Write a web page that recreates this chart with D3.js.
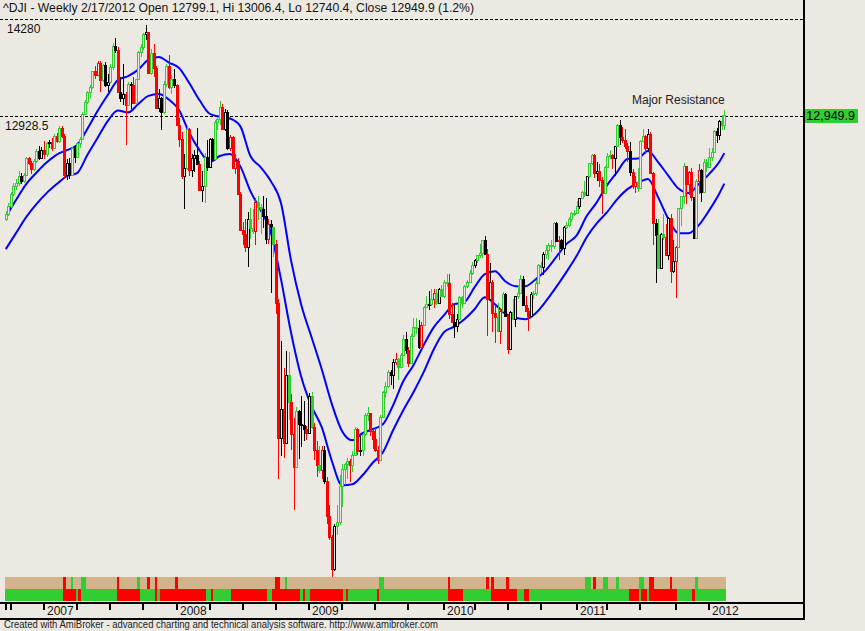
<!DOCTYPE html>
<html>
<head>
<meta charset="utf-8">
<script src="https://cdnjs.cloudflare.com/ajax/libs/d3/7.8.5/d3.min.js"></script>
<style>
  body { margin: 0; background: #ece9e2; }
  svg { display: block; font-family: "Liberation Sans", Arial, sans-serif; }
</style>
</head>
<body>
<script>
// ^DJI weekly bars, 9/22/2006 .. 2/17/2012 (283 bars)
const firstFriday = new Date(2006, 8, 22);
const shortWeeks = ["2010-01-01"];   // bar dated on the Thursday

const openPx = [
  11495,11560,11679,11850,11961,12002,12090,12031,12108,12342,12280,12194,12307,12445,12343,
  12463,12398,12556,12565,12487,12653,12580,12768,12647,12114,12276,12110,12481,12354,12560,12612,12961,13120,13264,13327,13556,13507,13668,13424,13639,13360,13408,13611,13907,13851,13265,13182,13239,13079,13379,13358,13113,13442,13820,13896,14066,14093,13522,13807,13595,13042,13177,12980,13372,13625,13339,13451,
  13366,12800,12606,12099,12207,12743,12182,12348,12381,12266,11894,11951,12361,12216,12609,12325,12849,12891,13058,12745,12986,12480,12638,12209,12307,11843,11346,11288,11100,11496,11370,11326,11734,11659,11628,11543,11220,11421,11388,11143,10325,8451,8852,8378,9325,8943,8497,8046,8829,8635,8629,8579,
  8515,9034,8599,8281,8077,8001,8280,7850,7366,7063,6627,7224,7279,7776,8018,8083,8131,8076,8212,8575,8268,8277,8500,8764,8799,8539,8438,8280,8146,8743,9093,9172,9370,9321,9505,9544,9441,9605,9820,9665,9488,9865,9996,9972,9713,10023,10270,10318,10309,10388,10471,10329,10520,
  10428,10618,10610,10173,10067,10012,10099,10403,10325,10567,10625,10742,10851,10927,10997,11019,11204,11009,10380,10620,10193,10137,9931,10212,10450,10144,9686,10198,10098,10424,10466,10654,10303,10213,10150,10448,10462,10607,10860,10829,11006,11063,11133,11118,11445,11193,11204,11092,11382,11410,11492,11573,
  11578,11675,11787,11872,11824,12092,12273,12391,12130,12170,12044,11859,12221,12377,12380,12342,12506,12811,12638,12596,12512,12442,12151,11952,12004,11934,12582,12657,12480,12681,12143,11445,11269,10818,11285,11240,10992,11509,10772,10913,11103,11644,11809,12231,11983,12153,11796,11231,12019,12184,11867,12294,
  12218,12360,12422,12720,12660,12862,12799.1
];
const highPx = [
  11610,11720,11870,11990,12050,12160,12130,12140,12360,12360,12300,12330,12470,12510,12500,
  12580,12570,12600,12620,12680,12690,12790,12790,12680,12330,12350,12500,12530,12570,12640,12980,13150,13280,13360,13560,13630,13690,13690,13660,13680,13520,13650,13940,14020,13890,13470,13660,13260,13400,13400,13470,13450,13830,13930,14080,14198,14100,13860,13930,13620,13310,13200,13420,13660,13780,13500,13580,
  13370,12900,12700,12400,12770,12760,12400,12460,12760,12300,12160,12410,12600,12630,12630,12870,12900,13140,13100,13030,13010,12660,12650,12400,12340,11870,11460,11490,11600,11650,11640,11790,11810,11700,11810,11790,11500,11480,11390,11200,10380,9800,9420,9660,9650,9060,8730,8880,8830,9030,8960,8620,
  9070,9090,8660,8400,8340,8340,8340,7900,7520,7090,7250,7510,7930,8080,8100,8170,8160,8260,8600,8580,8480,8520,8800,8880,8800,8570,8600,8330,8770,9100,9220,9390,9400,9550,9630,9560,9630,9880,9920,9720,9890,10120,10120,10090,10060,10290,10420,10500,10520,10520,10520,10530,10580,
  10640,10730,10730,10330,10300,10170,10430,10420,10580,10650,10780,10900,10940,11000,11150,11210,11260,11080,10880,10640,10290,10330,10250,10480,10470,10170,10210,10380,10430,10580,10720,10700,10420,10260,10480,10500,10640,10870,10900,11030,11140,11160,11200,11450,11450,11260,11220,11400,11460,11520,11590,11620,
  11740,11790,11880,12020,12100,12280,12400,12400,12290,12260,12080,12230,12420,12450,12400,12510,12820,12880,12780,12750,12550,12570,12190,12100,12200,12600,12750,12660,12750,12700,12150,11500,11500,11300,11560,11420,11520,11560,11200,11120,11650,11820,12280,12240,12160,12200,11800,12050,12260,12190,12330,12330,
  12480,12490,12730,12760,12880,12940,13006.4
];
const lowPx = [
  11470,11540,11650,11820,11900,11950,11980,11990,12100,12250,12120,12170,12280,12320,12330,
  12330,12360,12480,12440,12480,12560,12560,12620,12050,12040,12050,12100,12280,12350,12480,12600,12940,13100,13180,13300,13440,13480,13260,13400,13340,13260,13400,13570,13810,13260,13130,13080,12520,13070,13030,13100,13100,13430,13750,13850,13990,13520,13500,13470,13040,12990,12740,12960,13340,13300,13230,13320,
  12790,12500,12050,11630,12180,12100,12080,12150,12260,11890,11730,11720,12170,12200,12300,12310,12730,12800,12740,12720,12460,12440,12200,12120,11830,11340,11130,11030,10830,11220,11290,11140,11480,11290,11370,11150,11150,10460,10970,10180,7880,8200,8170,8370,8700,8280,7450,8030,8150,8320,8400,8420,
  8500,8570,8140,7910,7960,7880,7800,7250,7030,6470,6600,7100,7230,7490,7790,7880,7840,7980,8200,8210,8200,8200,8480,8690,8480,8300,8250,8090,8140,8720,9010,9140,9180,9130,9460,9250,9420,9590,9620,9430,9480,9850,9900,9680,9680,10020,10270,10230,10290,10260,10300,10320,10420,
  10400,10550,10110,10050,9840,9920,10090,10250,10310,10530,10600,10720,10810,10880,10950,10950,10990,9870,10360,9920,9770,9920,9760,10200,10130,9610,9680,10090,9990,10380,10450,10290,10200,9940,10140,10380,10430,10590,10740,10720,10940,10930,11040,11080,11170,10930,11050,10990,11350,11390,11450,11540,
  11570,11630,11770,11800,11820,12060,12250,12060,12030,11940,11560,11850,12210,12330,12190,12090,12500,12530,12560,12470,12290,12100,11920,11860,11870,11930,12570,12400,12440,12120,11140,10600,10800,10800,11200,10990,10930,10600,10750,10400,11090,11400,11700,11700,11830,11740,11230,11230,11850,11730,11860,12150,
  12210,12300,12420,12560,12600,12740,12740.4
];
const closePx = [
  11560,11679,11850,11961,12002,12090,12031,12108,12342,12280,12194,12307,12445,12343,12463,
  12398,12556,12565,12487,12653,12580,12768,12647,12114,12276,12110,12481,12354,12560,12612,12961,13120,13264,13327,13556,13507,13668,13424,13639,13360,13408,13611,13907,13851,13265,13182,13239,13079,13379,13358,13113,13442,13820,13896,14066,14093,13522,13807,13595,13042,13177,12980,13372,13625,13339,13451,13366,
  12800,12606,12099,12207,12743,12182,12348,12381,12266,11894,11951,12361,12216,12609,12325,12849,12891,13058,12745,12986,12480,12638,12209,12307,11843,11346,11288,11100,11496,11370,11326,11734,11659,11628,11543,11220,11421,11388,11143,10325,8451,8852,8378,9325,8943,8497,8046,8829,8635,8629,8579,8515,
  9034,8599,8281,8077,8001,8280,7850,7366,7063,6627,7224,7279,7776,8018,8083,8131,8076,8212,8575,8268,8277,8500,8764,8799,8539,8438,8280,8146,8743,9093,9172,9370,9321,9505,9544,9441,9605,9820,9665,9488,9865,9996,9972,9713,10023,10270,10318,10309,10388,10471,10329,10520,10428,
  10618,10610,10173,10067,10012,10099,10403,10325,10567,10625,10742,10851,10927,10997,11019,11204,11009,10380,10620,10193,10137,9931,10212,10450,10144,9686,10198,10098,10424,10466,10654,10303,10213,10150,10448,10462,10607,10860,10829,11006,11063,11133,11118,11445,11193,11204,11092,11382,11410,11492,11573,11578,
  11675,11787,11872,11824,12092,12273,12391,12130,12170,12044,11859,12221,12377,12380,12342,12506,12811,12638,12596,12512,12442,12151,11952,12004,11934,12582,12657,12480,12681,12143,11445,11269,10818,11285,11240,10992,11509,10772,10913,11103,11644,11809,12231,11983,12153,11796,11231,12019,12184,11867,12294,12218,
  12360,12422,12720,12660,12862,12801,12949.9
];

// candle colour per bar: g green, r red, k black (one string per year)
const candleColorCodes = [
  "ggggggkggrrggkk",
  "rgkrgrgrrkkgkgggggggrrrgkkggkrkkrgkrggggkrgrrkkggrgk",
  "rrrkgrkkkrkgkkkgggrkkrrrrrrrkggrggkkrkgrrkrkgrrgkkkr",
  "kgrrgrkrrrkgggggrggrkgggrrrrggggkkrgggkrgggkrggkgrgkg",
  "ggrrkkggggggkgggkrkrrgrgkrkgkggkrrkggggkggggkrkkgggg",
  "gkggkggrkrrgggrkgkrrrkrrgggrkrrkgkgrkrkrgggrrrkgrkgg",
  "gggkkgg"
].join("");

// upper / lower bands, sampled every 4th bar (last sample on bar 282)
const bandBars = d3.range(0, 281, 4).concat([282]);
const upperBand = [
  11522,11759,11982,12140,12281,12392,12455,12525,12748,12998,
  13221,13430,13486,13575,13714,13751,13674,13597,13388,13152,
  12961,12919,12894,12789,12372,12218,12023,11717,10909,10296,
  9850,9404,8917,8541,8415,8513,8569,8638,8903,9237,
  9460,9739,9990,10157,10310,10338,10547,10728,10770,10630,
  10561,10561,10658,10784,10965,11146,11264,11536,11731,11968,
  12153,12330,12337,12441,12288,12100,11919,11856,11982,12121,
  12288,12413
];
const lowerBand = [
  11076,11299,11522,11703,11856,11982,12093,12135,12386,12622,
  12859,13005,12978,13096,13210,13235,13159,13012,12696,12455,
  12288,12372,12399,12232,11884,11619,11313,10658,9906,9293,
  8889,8597,8123,7789,7803,7928,8102,8248,8555,8833,
  9084,9363,9683,9920,9997,10101,10240,10407,10310,10178,
  10121,10101,10185,10352,10547,10756,10979,11243,11438,11592,
  11773,11912,11995,12051,11800,11500,11299,11299,11410,11612,
  11848,11989
];

// ribbons under the price pane
const topSignals = [
  [23,"r"],[26,"g"],[30,"g"],[31,"g"],[44,"r"],[52,"g"],[56,"r"],[59,"r"],[67,"r"],
  [106,"r"],[107,"r"],[110,"g"],[147,"g"],[148,"g"],[174,"r"],[189,"r"],[191,"r"],[197,"r"],
  [228,"g"],[229,"g"],[231,"r"],[235,"g"],[236,"g"],[240,"g"],[249,"g"],[250,"g"],
  [253,"r"],[254,"r"],[261,"r"],[271,"g"]
];
const bottomRuns = [
  [0,22,"g"],[23,27,"r"],[28,28,"g"],[29,29,"r"],[30,43,"g"],[44,52,"r"],[53,58,"g"],
  [59,59,"r"],[60,60,"g"],[61,78,"r"],[79,80,"g"],[81,81,"r"],[82,88,"g"],[89,102,"r"],
  [103,104,"g"],[105,115,"r"],[116,116,"g"],[117,117,"r"],[118,119,"g"],[120,132,"r"],
  [133,133,"g"],[134,134,"r"],[135,145,"g"],[146,146,"r"],[147,173,"g"],[174,179,"r"],
  [180,190,"g"],[191,200,"r"],[201,203,"g"],[204,205,"r"],[206,244,"g"],[245,248,"r"],
  [249,249,"g"],[250,251,"r"],[252,252,"g"],[253,263,"r"],[264,269,"g"],[270,270,"r"],
  [271,282,"g"]
];

const levels = [
  {value: 14280, label: "14280", lx: 7},
  {value: 12928.5, label: "12928.5", lx: 5}
];
const titleText = "^DJI - Weekly 2/17/2012 Open 12799.1, Hi 13006.4, Lo 12740.4, Close 12949.9 (1.2%)";
const footerText = "Created with AmiBroker - advanced charting and technical analysis software. http://www.amibroker.com";

const bg = "#ece9e2";
const colorOf = {g: "#33cc33", r: "#ff0000", k: "#000000", t: "#d2b48c"};

const width = 865, height = 631;
const svg = d3.select("body")
  .append("svg")
  .attr("width", width)
  .attr("height", height);

svg.append("rect").attr("width", width).attr("height", height).attr("fill", bg);

const fmt = d3.timeFormat("%Y-%m-%d");
const bars = closePx.map((c, i) => {
  let d = d3.timeDay.offset(firstFriday, 7 * i);
  if (shortWeeks.includes(fmt(d))) d = d3.timeDay.offset(d, -1);
  return {i, date: d, o: openPx[i], h: highPx[i], l: lowPx[i], c, col: candleColorCodes[i]};
});

const x = d3.scaleLinear().domain([0, bars.length - 1]).range([5.8, 724.3]);
const y = d3.scaleLinear().domain([6470, 14280]).range([580, 19]);
const step = x(1) - x(0);

// reference lines
const lv = svg.append("g");
levels.forEach(l => {
  const yy = Math.round(y(l.value)) + 0.5;
  lv.append("line")
    .attr("x1", 0).attr("x2", 804).attr("y1", yy).attr("y2", yy)
    .attr("stroke", "#000").attr("stroke-dasharray", "3,2");
  lv.append("text")
    .attr("x", l.lx).attr("y", yy + 13)
    .attr("font-size", 12).attr("fill", "#111")
    .text(l.label);
});
lv.append("text")
  .attr("x", 632).attr("y", Math.round(y(12928.5)) - 12)
  .attr("font-size", 12).attr("fill", "#222")
  .text("Major Resistance");

// bands
const bandLine = d3.line()
  .x(d => x(d[0]))
  .y(d => y(d[1]))
  .curve(d3.curveMonotoneX);

[upperBand, lowerBand].forEach(band => {
  svg.append("path")
    .datum(bandBars.map((b, k) => [b, band[k]]))
    .attr("fill", "none")
    .attr("stroke", "#0000ff")
    .attr("stroke-width", 2)
    .attr("d", bandLine);
});

// candles
const candle = svg.append("g").attr("shape-rendering", "crispEdges")
  .selectAll("g")
  .data(bars)
  .join("g");

candle.append("line")
  .attr("x1", d => Math.round(x(d.i)) + 0.5)
  .attr("x2", d => Math.round(x(d.i)) + 0.5)
  .attr("y1", d => Math.round(y(d.h)))
  .attr("y2", d => Math.round(y(d.l)))
  .attr("stroke", d => colorOf[d.col]);

candle.append("rect")
  .attr("x", d => Math.round(x(d.i)) - 0.5)
  .attr("width", 2)
  .attr("y", d => Math.round(y(Math.max(d.o, d.c))) + 0.5)
  .attr("height", d => Math.max(1, Math.round(y(Math.min(d.o, d.c))) - Math.round(y(Math.max(d.o, d.c)))))
  .attr("fill", d => d.c >= d.o ? bg : colorOf[d.col])
  .attr("stroke", d => colorOf[d.col]);

// ribbons
const rib = svg.append("g").attr("shape-rendering", "crispEdges");
const half = step / 2;
rib.append("rect")
  .attr("x", x(0) - half).attr("width", x(bars.length - 1) - x(0) + step)
  .attr("y", 577).attr("height", 11.5)
  .attr("fill", colorOf.t);
rib.selectAll(".sig")
  .data(topSignals)
  .join("rect")
  .attr("x", d => x(d[0]) - half).attr("width", step)
  .attr("y", 577).attr("height", 11.5)
  .attr("fill", d => colorOf[d[1]]);
rib.selectAll(".run")
  .data(bottomRuns)
  .join("rect")
  .attr("x", d => x(d[0]) - half).attr("width", d => x(d[1]) - x(d[0]) + step)
  .attr("y", 588.5).attr("height", 12.5)
  .attr("fill", d => colorOf[d[2]]);

// frame
const frame = svg.append("g").attr("stroke", "#000").attr("stroke-width", 2);
frame.append("line").attr("x1", 0).attr("x2", 805).attr("y1", 603).attr("y2", 603);
frame.append("line").attr("x1", 0).attr("x2", 805).attr("y1", 619).attr("y2", 619);
frame.append("line").attr("x1", 804).attr("x2", 804).attr("y1", 0).attr("y2", 620);

// date axis: quarter ticks, year labels
const qOf = d => d.getFullYear() * 4 + Math.floor(d.getMonth() / 3);
const tickBars = bars.filter((b, i) => i === 0 || qOf(b.date) !== qOf(bars[i - 1].date));
const yearBars = bars.filter((b, i) => i > 0 && b.date.getFullYear() !== bars[i - 1].date.getFullYear());

svg.append("g")
  .selectAll("line")
  .data(tickBars)
  .join("line")
  .attr("x1", d => Math.round(x(d.i)))
  .attr("x2", d => Math.round(x(d.i)))
  .attr("y1", 603).attr("y2", 610)
  .attr("stroke", "#000").attr("stroke-width", 2);

svg.append("g")
  .selectAll("text")
  .data(yearBars)
  .join("text")
  .attr("x", d => Math.round(x(d.i)) + 3)
  .attr("y", 615)
  .attr("font-size", 12)
  .attr("fill", "#111")
  .text(d => d.date.getFullYear());

// last price tag
const last = bars[bars.length - 1];
svg.append("rect")
  .attr("x", 805).attr("width", 53)
  .attr("y", Math.round(y(last.c)) - 6).attr("height", 14)
  .attr("fill", "#33cc33");
svg.append("text")
  .attr("x", 855).attr("y", Math.round(y(last.c)) + 5)
  .attr("text-anchor", "end")
  .attr("font-size", 12.5).attr("fill", "#000")
  .text(d3.format(",.1f")(last.c));

// title + footer
svg.append("text")
  .attr("x", 3).attr("y", 12)
  .attr("font-size", 12).attr("fill", "#111")
  .attr("textLength", 471).attr("lengthAdjust", "spacingAndGlyphs")
  .text(titleText);

svg.append("text")
  .attr("x", 4).attr("y", 628)
  .attr("font-size", 10.5).attr("fill", "#222")
  .attr("textLength", 434).attr("lengthAdjust", "spacingAndGlyphs")
  .text(footerText);
</script>
</body>
</html>
